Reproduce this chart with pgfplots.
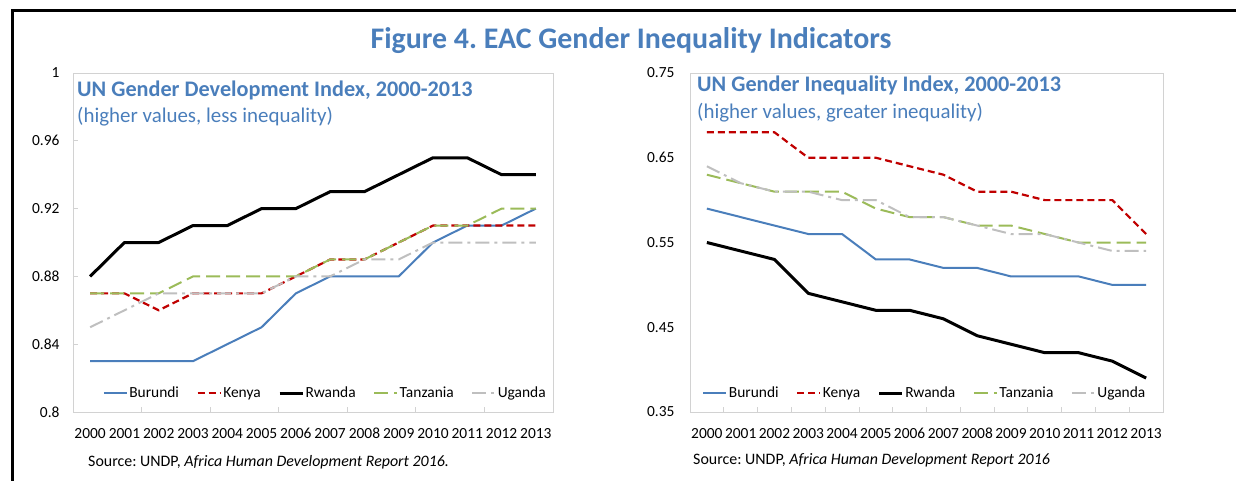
\documentclass[border=0pt]{standalone}
\usepackage{fontspec}
\setmainfont{Carlito}
\usepackage{pgfplots}
\usepackage{pgfplotstable}
\pgfplotsset{compat=1.18}
\definecolor{ttl}{RGB}{74,126,187}
\definecolor{bur}{RGB}{74,126,187}
\definecolor{ken}{RGB}{192,0,0}
\definecolor{tanc}{RGB}{155,187,89}
\definecolor{uga}{RGB}{191,191,191}
\definecolor{axg}{RGB}{210,210,210}

\pgfplotstableread{
year Burundi Kenya Rwanda Tanzania Uganda
2000 0.83 0.87 0.88 0.87 0.85
2001 0.83 0.87 0.90 0.87 0.86
2002 0.83 0.86 0.90 0.87 0.87
2003 0.83 0.87 0.91 0.88 0.87
2004 0.84 0.87 0.91 0.88 0.87
2005 0.85 0.87 0.92 0.88 0.87
2006 0.87 0.88 0.92 0.88 0.88
2007 0.88 0.89 0.93 0.89 0.88
2008 0.88 0.89 0.93 0.89 0.89
2009 0.88 0.90 0.94 0.90 0.89
2010 0.90 0.91 0.95 0.91 0.90
2011 0.91 0.91 0.95 0.91 0.90
2012 0.91 0.91 0.94 0.92 0.90
2013 0.92 0.91 0.94 0.92 0.90
}\gdi

\pgfplotstableread{
year Burundi Kenya Rwanda Tanzania Uganda
2000 0.59 0.68 0.55 0.63 0.64
2001 0.58 0.68 0.54 0.62 0.62
2002 0.57 0.68 0.53 0.61 0.61
2003 0.56 0.65 0.49 0.61 0.61
2004 0.56 0.65 0.48 0.61 0.60
2005 0.53 0.65 0.47 0.59 0.60
2006 0.53 0.64 0.47 0.58 0.58
2007 0.52 0.63 0.46 0.58 0.58
2008 0.52 0.61 0.44 0.57 0.57
2009 0.51 0.61 0.43 0.57 0.56
2010 0.51 0.60 0.42 0.56 0.56
2011 0.51 0.60 0.42 0.55 0.55
2012 0.50 0.60 0.41 0.55 0.54
2013 0.50 0.56 0.39 0.55 0.54
}\gii

\pgfplotsset{
  common/.style={
    scale only axis, height=339bp, anchor=south west,
    xmin=1999.5, xmax=2013.5,
    xtick={2000,2001,2002,2003,2004,2005,2006,2007,2008,2009,2010,2011,2012,2013},
    xticklabels={2000,2001,2002,2003,2004,2005,2006,2007,2008,2009,2010,2011,2012,2013},
    tick align=inside, tick pos=left,
    major tick length=5bp, minor tick length=5bp,
    tick style={draw=axg, line width=0.8bp},
    major x tick style={draw=none},
    axis line style={draw=axg, line width=1bp},
    /pgf/number format/assume math mode=true,
    ticklabel style={font=\fontsize{15.5}{18}\selectfont, text=black},
    xticklabel style={yshift=-12bp, text height=11bp, text depth=0bp},
    legend columns=5,
    legend image code/.code={\draw[##1] (0bp,0bp) -- (23bp,0bp);},
    legend style={draw=none, fill=none, font=\fontsize{15.5}{18}\selectfont,
      anchor=center, column sep=0bp,
      /tikz/every even column/.append style={column sep=16bp},
      nodes={inner sep=1.5bp}},
    every axis plot/.append style={line join=round},
  },
  sbur/.style={bur, line width=2bp},
  sken/.style={ken, line width=2.2bp, dash pattern=on 7bp off 4bp},
  srwa/.style={black, line width=3bp},
  stan/.style={tanc, line width=2bp, dash pattern=on 14bp off 6bp},
  suga/.style={uga, line width=2bp, dash pattern=on 14bp off 5bp on 3bp off 5bp},
}

\begin{document}
\frenchspacing
\begin{tikzpicture}
\useasboundingbox (0bp,0bp) rectangle (1236bp,-481bp);
\draw[line width=3bp] (12bp,-482bp) -- (12bp,-10bp) -- (1240bp,-10bp);
\node[font=\fontsize{30}{34}\selectfont\bfseries, text=ttl] at (631bp,-41bp) {Figure 4. EAC Gender Inequality Indicators};

\begin{axis}[common, at={(73bp,-412bp)}, width=480bp,
  ymin=0.8, ymax=1, ytick={0.8,0.84,0.88,0.92,0.96,1},
  yticklabels={0.8,0.84,0.88,0.92,0.96,1},
  yticklabel style={xshift=-10bp},
  minor xtick={2001.5,2003.5,2005.5,2007.5,2009.5,2011.5},
  legend style={at={(0.525,0.056)}},
]
\addplot[sbur] table[x=year,y=Burundi]{\gdi};
\addplot[sken] table[x=year,y=Kenya]{\gdi};
\addplot[srwa] table[x=year,y=Rwanda]{\gdi};
\addplot[stan] table[x=year,y=Tanzania]{\gdi};
\addplot[suga] table[x=year,y=Uganda]{\gdi};
\legend{Burundi,Kenya,Rwanda,Tanzania,Uganda}
\end{axis}

\begin{axis}[common, at={(690bp,-412bp)}, width=473bp,
  ymin=0.35, ymax=0.75, ytick={0.35,0.45,0.55,0.65,0.75},
  yticklabels={0.35,0.45,0.55,0.65,0.75},
  yticklabel style={xshift=-12bp},
  ytick style={draw=none},
  minor xtick={2000.5,2001.5,2002.5,2003.5,2004.5,2005.5,2006.5,2007.5,2008.5,2009.5,2010.5,2011.5,2012.5},
  legend style={at={(0.496,0.056)}},
]
\addplot[sbur] table[x=year,y=Burundi]{\gii};
\addplot[sken] table[x=year,y=Kenya]{\gii};
\addplot[srwa] table[x=year,y=Rwanda]{\gii};
\addplot[stan] table[x=year,y=Tanzania]{\gii};
\addplot[suga] table[x=year,y=Uganda]{\gii};
\legend{Burundi,Kenya,Rwanda,Tanzania,Uganda}
\end{axis}

\node[anchor=west, inner sep=0, text=ttl, font=\fontsize{22.3}{26}\selectfont\bfseries] at (77bp,-90bp) {UN Gender Development Index, 2000-2013};
\node[anchor=west, inner sep=0, text=ttl, font=\fontsize{21}{25}\selectfont] at (77bp,-117bp) {(higher values, less inequality)};
\node[anchor=west, inner sep=0, text=ttl, font=\fontsize{22.3}{26}\selectfont\bfseries] at (697bp,-85bp) {UN Gender Inequality Index, 2000-2013};
\node[anchor=west, inner sep=0, text=ttl, font=\fontsize{21}{25}\selectfont] at (697bp,-113bp) {(higher values, greater inequality)};

\node[anchor=west, inner sep=0, font=\fontsize{16}{19}\selectfont] at (88bp,-462bp) {Source: UNDP, \textit{Africa Human Development Report 2016.}};
\node[anchor=west, inner sep=0, font=\fontsize{16}{19}\selectfont] at (693bp,-460bp) {Source: UNDP, \textit{Africa Human Development Report 2016}};
\end{tikzpicture}
\end{document}
